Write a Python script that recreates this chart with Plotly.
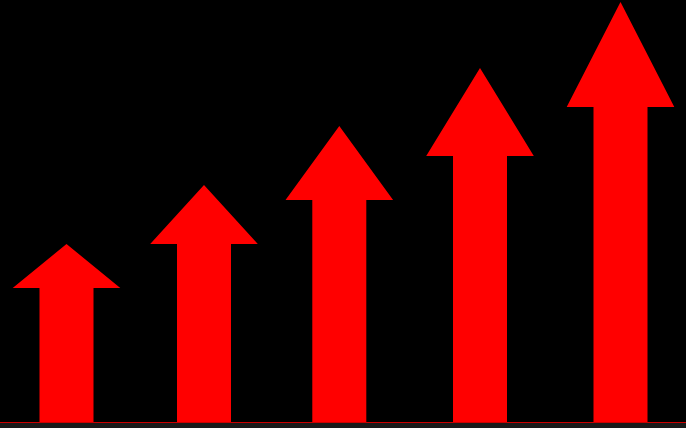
import plotly.graph_objects as go

# Data (units: chart value scale, baseline = 0)
x_centers = [66.5, 204, 339.3, 480, 620.5]
tip_values = [178, 237, 296, 354, 420]
head_base_values = [134, 178, 222, 266, 315]

SHAFT_HALF = 27
HEAD_HALF = 53.8
RED = "#ff0000"

fig = go.Figure()
for xc, tip, hb in zip(x_centers, tip_values, head_base_values):
    xs = [xc - SHAFT_HALF, xc - SHAFT_HALF, xc - HEAD_HALF, xc, xc + HEAD_HALF,
          xc + SHAFT_HALF, xc + SHAFT_HALF, xc - SHAFT_HALF]
    ys = [0, hb, hb, tip, hb, hb, 0, 0]
    fig.add_trace(go.Scatter(x=xs, y=ys, mode="lines", fill="toself",
                             fillcolor=RED, line=dict(color=RED, width=0),
                             hoverinfo="skip", showlegend=False))

fig.update_layout(
    width=686, height=428,
    margin=dict(l=0, r=0, t=0, b=6),
    paper_bgcolor="#1a1a1a",
    plot_bgcolor="#000000",
    xaxis=dict(range=[0, 686], visible=True, showgrid=False, zeroline=False,
               showticklabels=False, ticks="", showline=True, linecolor="#cc0000",
               linewidth=1, fixedrange=True),
    yaxis=dict(range=[0, 422], visible=False, showgrid=False, zeroline=False,
               fixedrange=True),
)

fig.write_html(
    "out.html",
    config={"displayModeBar": False},
    post_script="document.body.style.margin='0';document.body.style.padding='0';"
                "document.body.style.overflow='hidden';"
                "document.body.style.background='#1a1a1a';",
)
